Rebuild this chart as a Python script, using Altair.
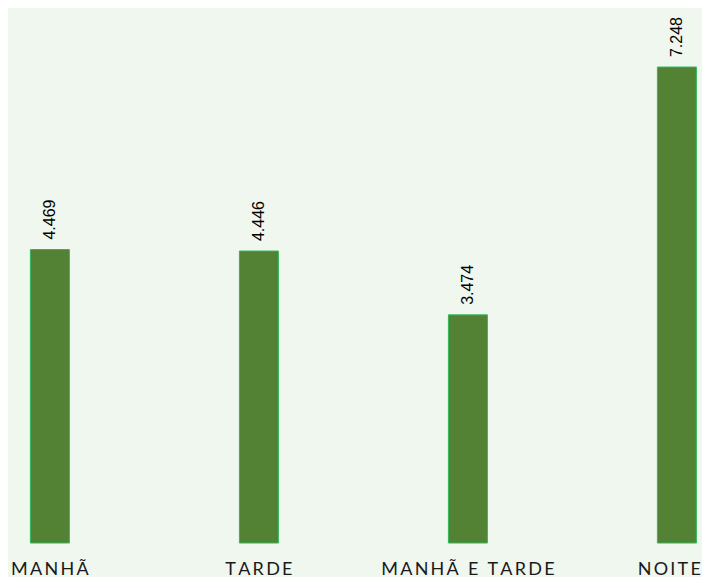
import altair as alt
import pandas as pd

categories = ["MANHÃ", "TARDE", "MANHÃ E TARDE", "NOITE"]
values = [4469, 4446, 3474, 7248]

SPACER = "\u2009"
labels_txt = [SPACER.join(list(c)) for c in categories]
df = pd.DataFrame({
    "periodo": categories,
    "label": labels_txt,
    "valor": values,
})

BG = "#F0F7EE"
last_label = labels_txt[-1]

base = alt.Chart(df).encode(
    x=alt.X(
        "label:N",
        sort=None,
        scale=alt.Scale(paddingInner=0.8134, paddingOuter=0.067, align=0.8),
        axis=alt.Axis(
            title=None, labelAngle=0, domain=False, ticks=False, grid=False,
            labelFont="Lato", labelFontSize=18, labelColor="#1a1a1a",
            labelPadding=17, labelBaseline="top",
            labelAlign={"condition": {"test": f"datum.value == '{last_label}'", "value": "right"}, "value": "center"},
            labelOffset={"condition": {"test": f"datum.value == '{last_label}'", "value": 24}, "value": 0},
        ),
    ),
    y=alt.Y(
        "valor:Q",
        scale=alt.Scale(domain=[0, 8147], nice=False, zero=True),
        axis=None,
    ),
)

bars = base.mark_bar(color="#548235", stroke="#2EB85C", strokeWidth=1)

labels = base.transform_calculate(
    txt="replace(format(datum.valor, ','), ',', '.')"
).mark_text(
    angle=270, align="left", baseline="middle", dx=10,
    font="Liberation Sans", fontSize=16, color="#000000",
).encode(text="txt:N")

chart = (bars + labels).properties(
    width=694,
    height=535,
    background=BG,
    padding={"left": 0, "top": 0, "right": 0, "bottom": 34},
    autosize=alt.AutoSizeParams(type="none"),
).configure_view(stroke=None, fill=BG)

chart.save("out.html", embed_options={"renderer": "svg", "actions": False})
